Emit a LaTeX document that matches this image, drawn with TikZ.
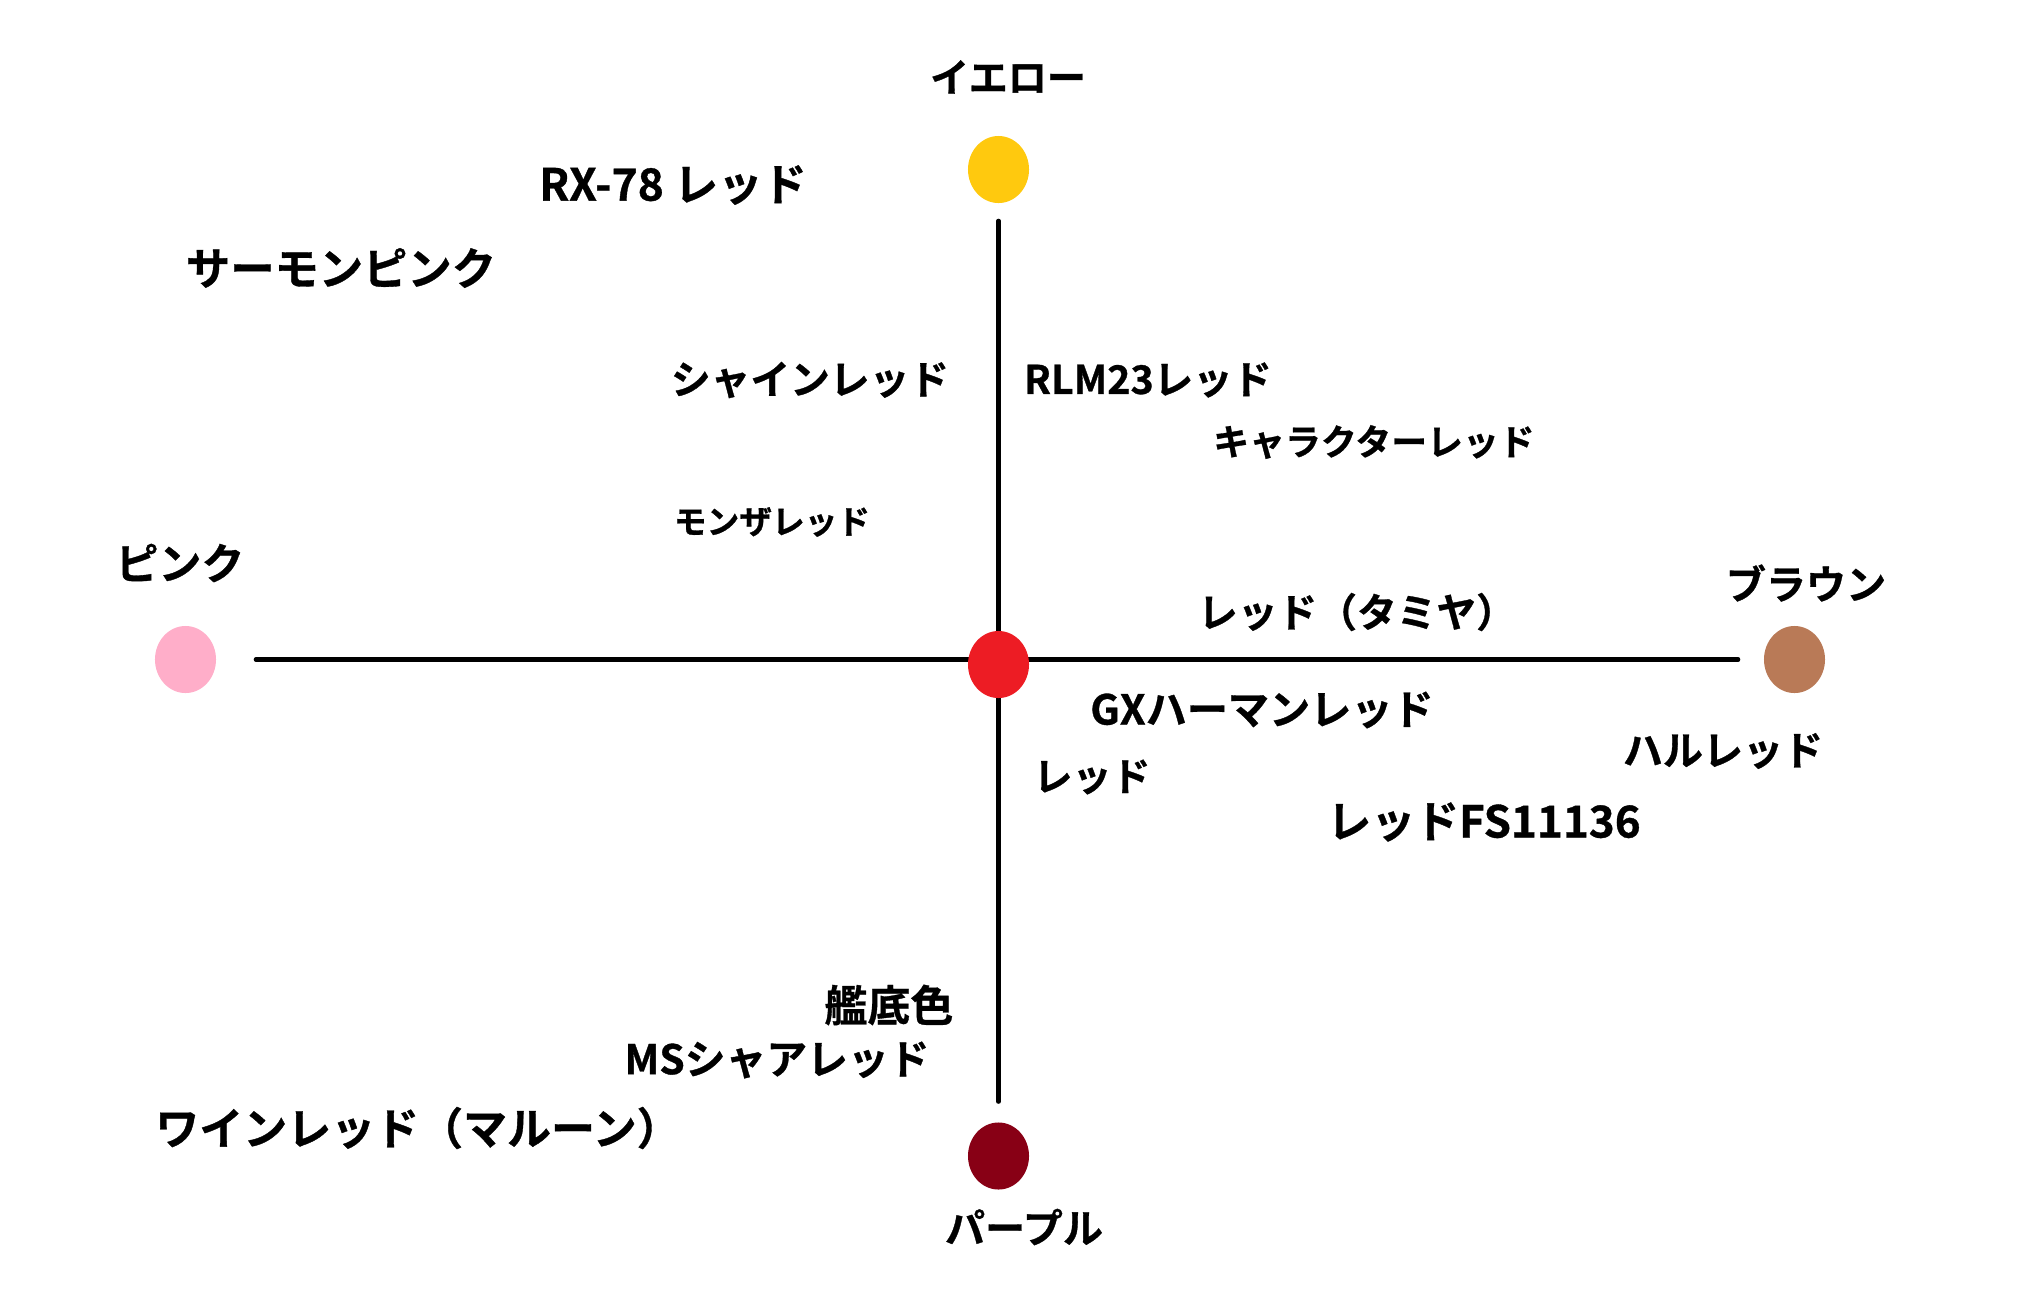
\documentclass[tikz,border=0pt]{standalone}
\usepackage{fontspec}
\newfontfamily\jpfont{Noto Sans CJK JP Bold}[FakeBold=0.8]
\usetikzlibrary{shapes.geometric}

\definecolor{pYellow}{HTML}{FFC90E}
\definecolor{pRed}{HTML}{ED1C24}
\definecolor{pPink}{HTML}{FFAEC9}
\definecolor{pBrown}{HTML}{B97A57}
\definecolor{pPurple}{HTML}{880015}

\tikzset{
  swatch/.style={ellipse,fill=#1,inner sep=0pt,minimum width=0.61cm,minimum height=0.67cm},
  axis/.style={line width=1.15pt,line cap=round},
  lbl/.style={font=\jpfont\fontsize{#1}{#1}\selectfont,inner sep=0pt},
  lbl/.default=11.4
}

\begin{document}
\begin{tikzpicture}[x=0.01cm,y=-0.01cm]
\useasboundingbox (0,0) rectangle (2020,1314);

% colour dots at the ends
\node[swatch=pYellow] (yellow) at (998.5,169.5) {};
\node[swatch=pPurple] (purple) at (998.5,1156) {};
\node[swatch=pPink] (pink) at (185.5,659.5) {};
\node[swatch=pBrown] (brown) at (1794.5,659.5) {};

% axes
\draw[axis,shorten <=0.17cm,shorten >=0.20cm] (yellow) -- (purple);
\draw[axis,shorten <=0.39cm,shorten >=0.25cm] (pink) -- (brown);
\node[swatch=pRed] (red) at (998.5,664.5) {};

% axis names
\node[lbl=11.1] (yellowTag) at (1008,77) {イエロー};
\node[lbl=12.2] (pinkTag) at (180,563) {ピンク};
\node[lbl] (brownTag) at (1806,583) {ブラウン};
\node[lbl] (purpleTag) at (1024,1227) {パープル};

% upper left
\node[lbl=12.6] (rx) at (673,185) {RX-78 レッド};
\node[lbl=12.6] (salmon) at (341,268) {サーモンピンク};
\node[lbl=11.3] (shine) at (810,380) {シャインレッド};
\node[lbl=9.3] (monza) at (772,522) {モンザレッド};

% upper right
\node[lbl=11.2] (rlm) at (1148,380) {RLM23レッド};
\node[lbl=10.2] (chara) at (1374,442) {キャラクターレッド};
\node[lbl=11.3] (tamiya) at (1357,612) {レッド（タミヤ）};

% lower right
\node[lbl=11.7] (gx) at (1262,710) {GXハーマンレッド};
\node[lbl] (hull) at (1723,751) {ハルレッド};
\node[lbl=11.1] (plain) at (1092,777) {レッド};
\node[lbl=12.5] (fs) at (1484,822) {レッドFS11136};

% lower left
\node[lbl=12.2] (bottom) at (889,1005) {艦底色};
\node[lbl=11.6] (char) at (777,1060) {MSシャアレッド};
\node[lbl=12.5] (wine) at (418,1128) {ワインレッド（マルーン）};

\end{tikzpicture}
\end{document}
